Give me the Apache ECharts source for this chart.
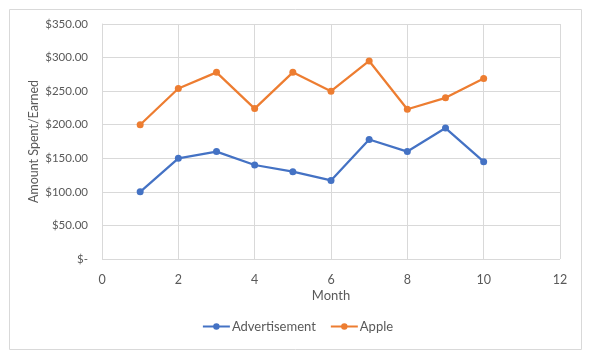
<!DOCTYPE html>
<html><head><meta charset="utf-8">
<script src="https://cdn.jsdelivr.net/npm/echarts@6/dist/echarts.min.js"></script>
<style>html,body{margin:0;padding:0;background:#fff}#c{width:595px;height:362px}</style>
</head><body><div id="c"></div>
<script>
const months = [1,2,3,4,5,6,7,8,9,10];
const advertisement = [100,150,160,140,130,117,178,160,195,145];
const apple = [200,254,278,224,278,250,295,223,240,269];
const xTicks = [0,2,4,6,8,10,12];
const yTicks = [0,50,100,150,200,250,300,350];

const chart = echarts.init(document.getElementById('c'), null, {renderer:'canvas'});
const font = 'Lato, "Open Sans", sans-serif';
const txt = '#595959';
chart.setOption({
  animation:false,
  graphic:[{type:'rect',shape:{x:9.5,y:9.5,width:572,height:340},style:{fill:'none',stroke:'#d9d9d9',lineWidth:1},silent:true}],
  grid:{left:102,right:35,top:24,bottom:103,containLabel:false},
  xAxis:{type:'value',min:xTicks[0],max:xTicks[xTicks.length-1],interval:2,
    name:'Month',nameLocation:'middle',nameGap:30,nameMoveOverlap:false,
    nameTextStyle:{color:txt,fontFamily:font,fontSize:13},
    axisLine:{show:false},axisTick:{show:false},
    axisLabel:{color:txt,fontFamily:font,fontSize:12.5,margin:14},
    splitLine:{show:true,lineStyle:{color:'#d9d9d9',width:1}}},
  yAxis:{type:'value',min:yTicks[0],max:yTicks[yTicks.length-1],interval:50,
    name:'Amount Spent/Earned',nameLocation:'middle',nameGap:62,nameMoveOverlap:false,
    nameTextStyle:{color:txt,fontFamily:font,fontSize:12.5},
    axisLine:{show:true,lineStyle:{color:'#d9d9d9'}},axisTick:{show:false},
    axisLabel:{color:txt,fontFamily:font,fontSize:11.5,margin:14,
      formatter:v=> v===0 ? '$-' : '$'+v.toFixed(2)},
    splitLine:{show:true,lineStyle:{color:'#d9d9d9',width:1}}},
  legend:{bottom:24,left:'center',itemWidth:27,itemHeight:8,itemGap:14,
    textStyle:{color:txt,fontFamily:font,fontSize:13,padding:[0,0,0,-3]},
    data:['Advertisement','Apple']},
  series:[
    {name:'Advertisement',type:'line',data:months.map((m,i)=>[m,advertisement[i]]),
     symbol:'circle',symbolSize:7,itemStyle:{color:'#4472C4'},lineStyle:{width:2.25,color:'#4472C4'}},
    {name:'Apple',type:'line',data:months.map((m,i)=>[m,apple[i]]),
     symbol:'circle',symbolSize:7,itemStyle:{color:'#ED7D31'},lineStyle:{width:2.25,color:'#ED7D31'}}
  ]
});
</script></body></html>
